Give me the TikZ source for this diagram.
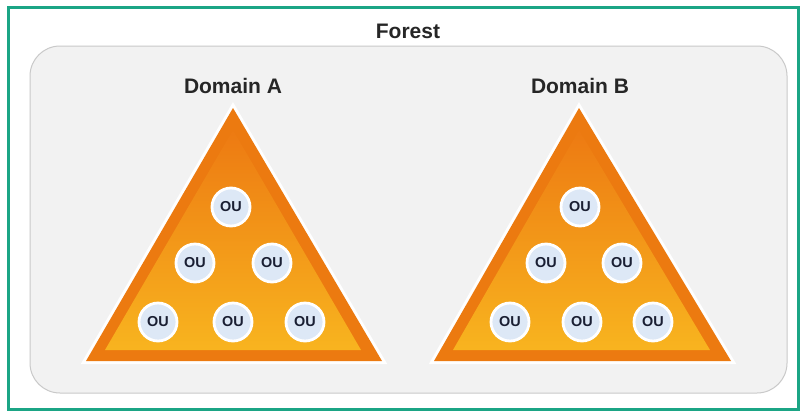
\documentclass[tikz,border=0pt]{standalone}
\usepackage{fontspec}
\setmainfont{Liberation Sans}
\usepackage{xcolor}
\usepackage{tikz}
\definecolor{framegreen}{HTML}{1BA585}
\definecolor{forestgray}{HTML}{F2F2F2}
\definecolor{forestline}{HTML}{C9C9C9}
\definecolor{pyrborder}{HTML}{EC7A10}
\definecolor{pyrtop}{HTML}{ED7A12}
\definecolor{pyrbottom}{HTML}{F8B41F}
\definecolor{oufill}{HTML}{DDE8F6}
\definecolor{outext}{HTML}{1A1F33}

\begin{document}
\begin{tikzpicture}[x=0.5pt,y=-0.5pt,
  heading/.style={font=\fontsize{10.5}{12}\selectfont\bfseries,text=black!85,inner sep=0pt},
  ou/.style={circle,draw=white,line width=1.4pt,fill=oufill,minimum size=19pt,inner sep=0pt,
    font=\fontsize{7.2}{8}\selectfont\bfseries,text=outext}]
  \useasboundingbox (0,0) rectangle (802,413);
  \fill[white] (0,0) rectangle (802,413);
  \draw[framegreen,line width=1.8pt] (8.5,7.5) rectangle (798.5,409.5);
  \draw[forestline,fill=forestgray,line width=0.5pt,rounded corners=15pt] (30,46) rectangle (787,393);
  \node[heading] (forest) at (408,31) {Forest};
  \node[heading] (doma) at (233,86) {Domain A};
  \node[heading] (domb) at (580,86) {Domain B};
  % domain A
  \draw[white,line width=3pt,line join=miter] (233,108) -- (86,361) -- (382,361) -- cycle;
  \fill[pyrborder] (233,108) -- (86,361) -- (382,361) -- cycle;
  \shade[top color=pyrtop,bottom color=pyrbottom] (233,130) -- (105,350) -- (361,350) -- cycle;
  % domain B
  \draw[white,line width=3pt,line join=miter] (579,108) -- (434,361) -- (731,361) -- cycle;
  \fill[pyrborder] (579,108) -- (434,361) -- (731,361) -- cycle;
  \shade[top color=pyrtop,bottom color=pyrbottom] (579,130) -- (453,350) -- (710,350) -- cycle;
  \node[ou] (a1) at (231,207) {OU};
  \node[ou] (a2) at (195,263) {OU};
  \node[ou] (a3) at (272,263) {OU};
  \node[ou] (a4) at (158,322) {OU};
  \node[ou] (a5) at (233,322) {OU};
  \node[ou] (a6) at (305,322) {OU};
  \node[ou] (b1) at (580,207) {OU};
  \node[ou] (b2) at (546,263) {OU};
  \node[ou] (b3) at (622,263) {OU};
  \node[ou] (b4) at (510,322) {OU};
  \node[ou] (b5) at (582,322) {OU};
  \node[ou] (b6) at (653,322) {OU};
\end{tikzpicture}
\end{document}
